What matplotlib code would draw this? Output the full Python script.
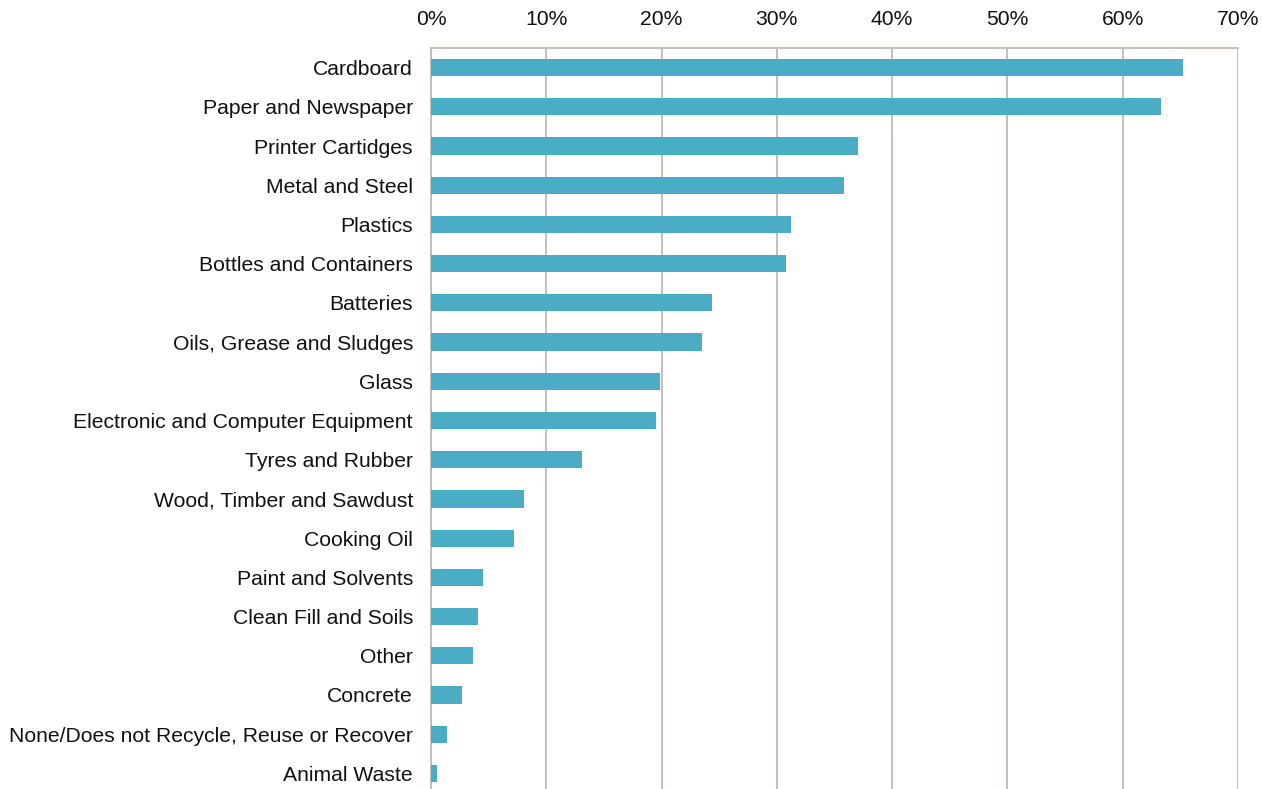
import matplotlib.pyplot as plt
from matplotlib.ticker import PercentFormatter

plt.rcParams['font.family'] = ['Liberation Sans', 'DejaVu Sans']

categories = [
    "Cardboard",
    "Paper and Newspaper",
    "Printer Cartidges",
    "Metal and Steel",
    "Plastics",
    "Bottles and Containers",
    "Batteries",
    "Oils, Grease and Sludges",
    "Glass",
    "Electronic and Computer Equipment",
    "Tyres and Rubber",
    "Wood, Timber and Sawdust",
    "Cooking Oil",
    "Paint and Solvents",
    "Clean Fill and Soils",
    "Other",
    "Concrete",
    "None/Does not Recycle, Reuse or Recover",
    "Animal Waste",
]
shares = [65.2, 63.3, 37.0, 35.8, 31.2, 30.8, 24.4, 23.5, 19.9, 19.5,
          13.1, 8.1, 7.2, 4.5, 4.1, 3.6, 2.7, 1.4, 0.5]

bar_color = "#4BACC6"
grid_color = "#C3BBB3"

fig = plt.figure(figsize=(12.62, 7.89), dpi=100)
ax = fig.add_axes([431 / 1262, -4 / 789, 807 / 1262, 745 / 789])

pos = list(range(len(categories)))
ax.barh(pos, shares, height=0.44, color=bar_color, zorder=3)
ax.set_ylim(len(categories) - 0.5, -0.5)
ax.set_xlim(0, 70)

ax.set_xticks(range(0, 71, 10))
ax.xaxis.set_major_formatter(PercentFormatter(decimals=0))
ax.xaxis.tick_top()
ax.tick_params(axis='x', length=0, pad=14, labelsize=15.2, colors="#111111")
ax.set_yticks(pos)
ax.set_yticklabels(categories)
ax.tick_params(axis='y', length=0, pad=13, labelsize=15.2, colors="#111111")

ax.grid(axis='x', color=grid_color, linewidth=1.3, zorder=0)
for side in ['left', 'top']:
    ax.spines[side].set_color(grid_color)
    ax.spines[side].set_linewidth(1.3)
for side in ['right', 'bottom']:
    ax.spines[side].set_visible(False)

fig.savefig("out.png", dpi=100)
